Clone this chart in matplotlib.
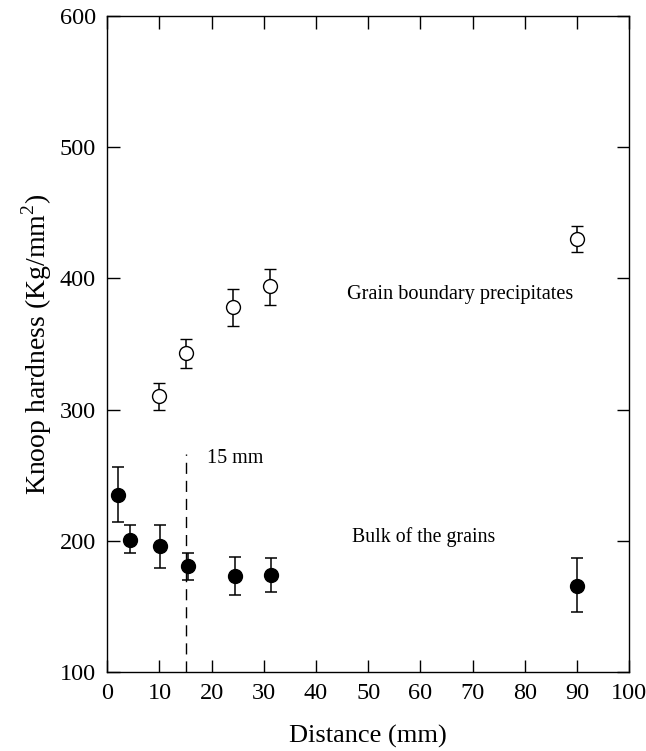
import matplotlib
matplotlib.use("Agg")
import matplotlib.pyplot as plt

# ---------- data ----------
# bulk of the grains (filled)
bulk_x   = [2.1, 4.3, 10.2, 15.4, 24.4, 31.3, 90.0]
bulk_y   = [235, 201, 196, 181, 173, 174, 166]
bulk_top = [256, 212, 212, 191, 188, 187, 187]
bulk_bot = [214, 191, 179, 170, 159, 161, 146]

# grain boundary precipitates (open)
gb_x   = [10.0, 15.1, 24.1, 31.2, 90.0]
gb_y   = [310, 343, 378, 394, 430]
gb_top = [320, 354, 392, 407, 440]
gb_bot = [300, 332, 364, 380, 420]

boundary_x = 15
boundary_top = 266

x_ticks = list(range(0, 101, 10))
y_ticks = list(range(100, 601, 100))

plt.rcParams["font.family"] = ["Liberation Serif", "DejaVu Serif"]
plt.rcParams["mathtext.fontset"] = "custom"
plt.rcParams["mathtext.rm"] = "Liberation Serif"

fig = plt.figure(figsize=(6.46, 7.51), dpi=100)
ax = fig.add_axes([0.166, 0.105, 0.808, 0.874])

ax.plot([boundary_x, boundary_x], [100, boundary_top], color="black", lw=1.0,
        dashes=(8, 5), zorder=1)

def errs(y, top, bot):
    return [[v - b for v, b in zip(y, bot)], [t - v for v, t in zip(y, top)]]

ax.errorbar(bulk_x, bulk_y, yerr=errs(bulk_y, bulk_top, bulk_bot), fmt="o",
            ms=10, mfc="black", mec="black", ecolor="black", elinewidth=1.1,
            capsize=4, capthick=1.1, zorder=3)
ax.errorbar(gb_x, gb_y, yerr=errs(gb_y, gb_top, gb_bot), fmt="o",
            ms=10, mfc="white", mec="black", mew=1.0, ecolor="black",
            elinewidth=1.1, capsize=4, capthick=1.1, zorder=3)

ax.text(19.1, 263, "15 mm", fontsize=14.5, ha="left", va="center")
ax.text(67.7, 388, "Grain boundary precipitates", fontsize=14.6, ha="center", va="center")
ax.text(60.7, 203, "Bulk of the grains", fontsize=14.3, ha="center", va="center")

ax.set_xlim(0, 100)
ax.set_ylim(100, 600)
ax.set_xticks(x_ticks)
ax.set_yticks(y_ticks)
ax.tick_params(direction="in", length=9, width=1.0, labelsize=17.5,
               top=True, right=True, pad=8)
for sp in ax.spines.values():
    sp.set_linewidth(1.0)

ax.set_xlabel("Distance (mm)", fontsize=19, labelpad=15)
ax.set_ylabel("Knoop hardness (Kg/mm$^\\mathregular{2}$)", fontsize=20, labelpad=4)

fig.savefig("out.png", dpi=100, facecolor="white")
